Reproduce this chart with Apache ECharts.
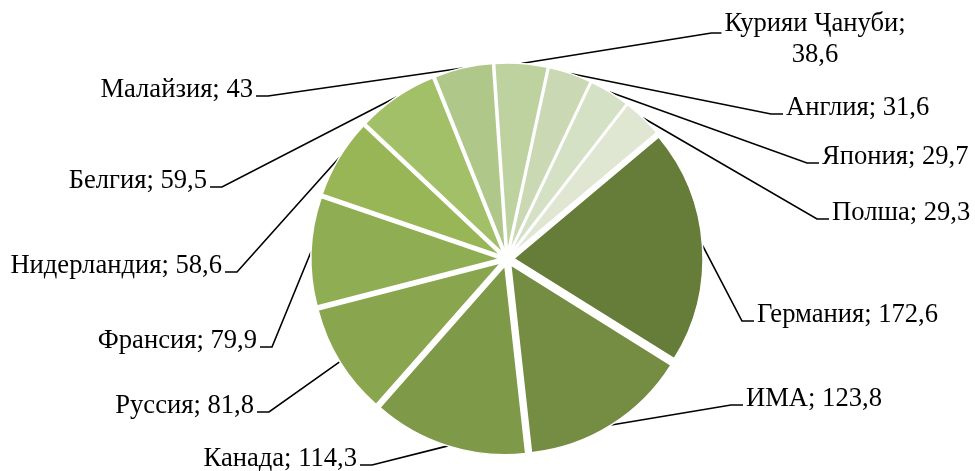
<!DOCTYPE html>
<html>
<head>
<meta charset="utf-8">
<script src="https://cdn.jsdelivr.net/npm/echarts@6/dist/echarts.min.js"></script>
<style>
html,body{margin:0;padding:0;background:#fff;}
#main{width:975px;height:471px;}
</style>
</head>
<body>
<div id="main"></div>
<script>
// ---- data ----
var categories = ['Германия', 'ИМА', 'Канада', 'Руссия', 'Франсия', 'Нидерландия', 'Белгия', 'Малайзия', 'Курияи Ҷануби', 'Англия', 'Япония', 'Полша'];
var values = [172.6, 123.8, 114.3, 81.8, 79.9, 58.6, 59.5, 43, 38.6, 31.6, 29.7, 29.3];
var labelTexts = ['Германия; 172,6', 'ИМА; 123,8', 'Канада; 114,3', 'Руссия; 81,8', 'Франсия; 79,9', 'Нидерландия; 58,6', 'Белгия; 59,5', 'Малайзия; 43', '{a|Курияи Ҷануби;}\n{b|38,6}', 'Англия; 31,6', 'Япония; 29,7', 'Полша; 29,3'];

// ---- styles ----
var colors = ['#667d39', '#748d42', '#7e9948', '#89a64f', '#8fad53', '#98b656', '#a2c068', '#afc789', '#bed2a0', '#cad9b4', '#d5e1c5', '#dfe7d2'];
var CX = 507, CY = 259, R = 189, OFF = 7;
// label anchor positions [x, y, align]
var labelPos = [
  [757, 315, 'left'],
  [746, 399, 'left'],
  [357, 459, 'right'],
  [254, 406, 'right'],
  [257, 341, 'right'],
  [222, 266, 'right'],
  [207, 181, 'right'],
  [253, 90, 'right'],
  [815, 40, 'center'],
  [786, 108, 'left'],
  [822, 157, 'left'],
  [832, 213, 'left']
];

var data = categories.map(function (c, i) {
  return {
    name: c,
    value: values[i],
    selected: true,
    itemStyle: { color: colors[i] },
    label: { formatter: labelTexts[i] }
  };
});

var font = { fontFamily: 'Liberation Serif', fontSize: 26.6, color: '#000000', lineHeight: 31 };

var chart = echarts.init(document.getElementById('main'), null, { renderer: 'canvas' });
chart.setOption({
  animation: false,
  backgroundColor: '#ffffff',
  series: [{
    type: 'pie',
    center: [CX, CY],
    radius: R,
    startAngle: 40,
    clockwise: true,
    selectedMode: 'multiple',
    selectedOffset: OFF,
    silent: true,
    emphasis: { disabled: true },
    avoidLabelOverlap: false,
    itemStyle: { borderColor: '#ffffff', borderWidth: 1.5 },
    label: {
      show: true,
      fontFamily: font.fontFamily,
      fontSize: font.fontSize,
      color: font.color,
      lineHeight: font.lineHeight,
      rich: {
        a: font,
        b: { fontFamily: font.fontFamily, fontSize: font.fontSize, color: font.color, lineHeight: font.lineHeight, align: 'center' }
      }
    },
    labelLine: {
      show: true,
      length: 10,
      length2: 12,
      lineStyle: { color: '#000000', width: 1.6 }
    },
    labelLayout: function (p) {
      var pos = labelPos[p.dataIndex];
      var r = p.labelRect;
      var p0 = p.labelLinePoints[0];
      var ang = Math.atan2(p0[1] - CY, p0[0] - CX);
      var ox = OFF * Math.cos(ang), oy = OFF * Math.sin(ang);
      var d = Math.sqrt((p0[0] - CX) * (p0[0] - CX) + (p0[1] - CY) * (p0[1] - CY));
      var lox = d > R + 3 ? 0 : ox, loy = d > R + 3 ? 0 : oy;
      var cx, edge, sy, stub;
      if (pos[2] === 'left') {
        cx = r.x; edge = pos[0] - 3; stub = edge - 12; sy = pos[1] + 6;
      } else if (pos[2] === 'right') {
        cx = r.x + r.width; edge = pos[0] + 3; stub = edge + 12; sy = pos[1] + 6;
      } else {
        cx = r.x + r.width / 2; edge = pos[0] - r.width / 2 - 3; stub = edge - 10; sy = pos[1] - 7;
      }
      return {
        dx: pos[0] - cx - ox,
        dy: pos[1] - (r.y + r.height / 2) - oy,
        labelLinePoints: [
          [p0[0], p0[1]],
          [stub - lox, sy - loy],
          [edge - lox, sy - loy]
        ]
      };
    },
    data: data
  }]
});
</script>
</body>
</html>
